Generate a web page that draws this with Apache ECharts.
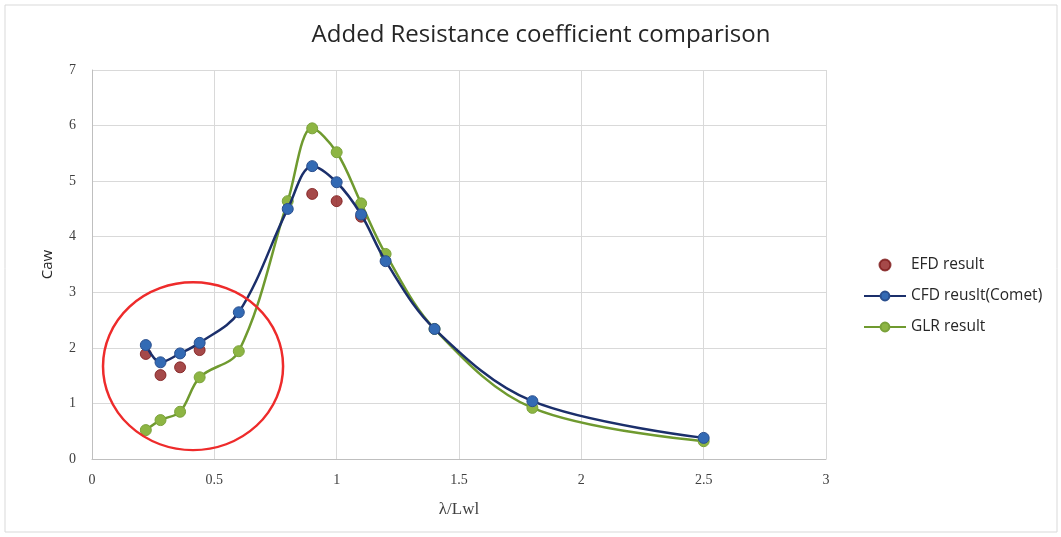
<!DOCTYPE html>
<html>
<head>
<meta charset="utf-8">
<script src="https://cdn.jsdelivr.net/npm/echarts@6/dist/echarts.min.js"></script>
<style>
  html, body { margin: 0; padding: 0; background: #fff; }
  #chart { width: 1061px; height: 537px; }
</style>
</head>
<body>
<div id="chart"></div>
<script>
// wavelength ratio λ/Lwl
const xCfd = [0.22, 0.28, 0.36, 0.44, 0.6, 0.8, 0.9, 1.0, 1.1, 1.2, 1.4, 1.8, 2.5];
const cfdValues = [2.05, 1.74, 1.9, 2.09, 2.64, 4.5, 5.27, 4.98, 4.4, 3.56, 2.34, 1.04, 0.38];
const glrValues = [0.52, 0.7, 0.85, 1.47, 1.94, 4.64, 5.95, 5.52, 4.6, 3.69, 2.34, 0.92, 0.32];

const xEfd = [0.22, 0.28, 0.36, 0.44, 0.9, 1.0, 1.1];
const efdValues = [1.89, 1.51, 1.65, 1.96, 4.77, 4.64, 4.36];

// red circle marking the short-wave region (data coords)
const ringCenter = [0.413, 1.67];
const ringRadius = [0.368, 1.51];

const zip = (xs, ys) => xs.map((x, i) => [x, ys[i]]);

const tickFont = "Liberation Serif";
const textFont = "Open Sans";

let chart = echarts.init(document.getElementById("chart"));

let option = {
  animation: false,
  title: {
    text: "Added Resistance coefficient comparison",
    left: 536,
    textAlign: "center",
    top: 18,
    textStyle: {
      fontFamily: textFont,
      fontSize: 24,
      fontWeight: "normal",
      color: "#262626",
    },
  },
  grid: {
    left: 92,
    right: 235,
    top: 70,
    bottom: 78,
  },
  xAxis: {
    type: "value",
    min: 0,
    max: 3,
    interval: 0.5,
    name: "λ/Lwl",
    nameLocation: "middle",
    nameGap: 42,
    nameTextStyle: { fontFamily: tickFont, fontSize: 17, color: "#404040" },
    axisLine: { lineStyle: { color: "#bfbfbf", width: 1 } },
    axisTick: { show: false },
    axisLabel: { fontFamily: tickFont, fontSize: 14, color: "#404040", margin: 14 },
    splitLine: { show: true, lineStyle: { color: "#d9d9d9" } },
  },
  yAxis: {
    type: "value",
    min: 0,
    max: 7,
    interval: 1,
    name: "Caw",
    nameLocation: "middle",
    nameGap: 37,
    nameTextStyle: { fontFamily: textFont, fontSize: 15, color: "#262626" },
    axisLine: { show: true, lineStyle: { color: "#bfbfbf", width: 1 } },
    axisTick: { show: false },
    axisLabel: { fontFamily: tickFont, fontSize: 14, color: "#404040", margin: 16 },
    splitLine: { show: true, lineStyle: { color: "#d9d9d9" } },
  },
  legend: {
    orient: "vertical",
    left: 858,
    top: 252,
    itemWidth: 42,
    itemHeight: 11,
    itemGap: 15,
    textStyle: { fontFamily: textFont, fontSize: 15.5, color: "#262626" },
    data: ["EFD result", "CFD reuslt(Comet)", "GLR result"],
  },
  series: [
    {
      name: "GLR result",
      type: "line",
      data: zip(xCfd, glrValues),
      smooth: 0.35,
      symbol: "circle",
      symbolSize: 11,
      z: 2,
      lineStyle: { color: "#6f9a2f", width: 2.5 },
      itemStyle: { color: "#8db543", borderColor: "#7aa23a", borderWidth: 1 },
    },
    {
      name: "CFD reuslt(Comet)",
      type: "line",
      data: zip(xCfd, cfdValues),
      smooth: 0.35,
      symbol: "circle",
      symbolSize: 11,
      z: 3,
      lineStyle: { color: "#1b2f6b", width: 2.5 },
      itemStyle: { color: "#336ab4", borderColor: "#2a4f8e", borderWidth: 1 },
    },
    {
      name: "EFD result",
      type: "scatter",
      data: zip(xEfd, efdValues),
      symbol: "circle",
      symbolSize: 11,
      z: 1,
      itemStyle: { color: "#8e1c1c", borderColor: "#7a1515", borderWidth: 1 },
    },
  ],
};

chart.setOption(option);

// place the red ring over the low λ/Lwl points
let c = chart.convertToPixel({ gridIndex: 0 }, ringCenter);
let e = chart.convertToPixel({ gridIndex: 0 }, [ringCenter[0] + ringRadius[0], ringCenter[1] + ringRadius[1]]);
let rx = e[0] - c[0];
let ry = c[1] - e[1];

chart.setOption({
  graphic: [
    {
      type: "rect",
      shape: { x: 5, y: 5, width: 1052, height: 527 },
      style: { fill: "none", stroke: "#d9d9d9", lineWidth: 1 },
      silent: true,
    },
    {
      type: "circle",
      x: c[0],
      y: c[1],
      scaleX: rx / ry,
      shape: { cx: 0, cy: 0, r: ry },
      style: { fill: "none", stroke: "#ee2b2b", lineWidth: 2.5 / Math.max(1, rx / ry) },
      z: 100,
      silent: true,
    },
  ],
});

window.addEventListener("resize", () => {
  chart.resize();
});
</script>
</body>
</html>
